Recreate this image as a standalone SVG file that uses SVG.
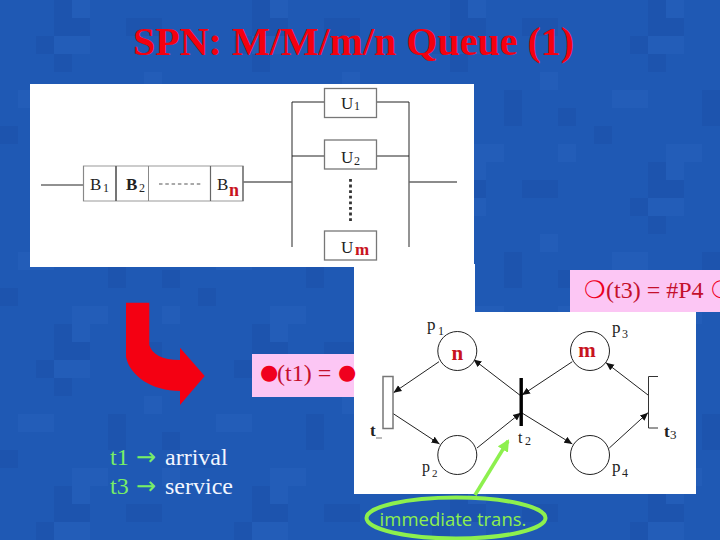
<svg xmlns="http://www.w3.org/2000/svg" width="720" height="540" viewBox="0 0 720 540">
<style>
.ln{fill:none;stroke:#222;stroke-width:1}
.gl{fill:none;stroke:#666;stroke-width:1.4}
.box{fill:#fff;stroke:#777;stroke-width:1.3}
.pl{fill:#fff;stroke:#222;stroke-width:1}
.s{font-family:"Liberation Serif",serif;fill:#222}
.r{font-family:"Liberation Serif",serif;font-weight:bold;fill:#c8141e}
.pk{font-family:"Liberation Serif",serif;font-size:24px;fill:#c4102c}
.bt{font-family:"DejaVu Sans",sans-serif;fill:#f0001e}
.g{font-family:"Liberation Serif",serif;font-size:24px;fill:#78ee66}
.ga{font-family:"DejaVu Sans",sans-serif;font-size:24px;fill:#78ee66}
.w{font-family:"Liberation Serif",serif;font-size:24px;fill:#f2f6ff}
.a{fill:none;stroke:#222;stroke-width:1;marker-end:url(#ah)}
.d{opacity:.3;fill:#174a9f}
.l{opacity:.3;fill:#2a66c2}
</style>
<defs>
<marker id="ah" markerUnits="userSpaceOnUse" markerWidth="9" markerHeight="8" refX="8" refY="4" orient="auto"><path d="M0 0.500L8 4L0 7.500z" fill="#111"/></marker>
<marker id="gh" markerUnits="userSpaceOnUse" markerWidth="14" markerHeight="12" refX="10" refY="6" orient="auto"><path d="M0 0L12 6L0 12z" fill="#8df04e"/></marker>
<pattern id="tiles" width="198" height="162" patternUnits="userSpaceOnUse">
<rect width="198" height="162" fill="#1f59b4"/>
<rect x="54" y="0" width="18" height="36" class="d"/>
<rect x="72" y="0" width="18" height="18" class="l"/>
<rect x="72" y="18" width="18" height="18" class="d"/>
<rect x="36" y="36" width="18" height="18" class="d"/>
<rect x="54" y="36" width="36" height="18" class="l"/>
<rect x="54" y="54" width="18" height="18" class="d"/>
<rect x="126" y="18" width="36" height="18" class="d"/>
<rect x="144" y="72" width="18" height="18" class="l"/>
<rect x="18" y="90" width="36" height="18" class="l"/>
<rect x="108" y="90" width="18" height="36" class="d"/>
<rect x="162" y="108" width="18" height="18" class="d"/>
<rect x="0" y="126" width="18" height="18" class="d"/>
<rect x="72" y="144" width="36" height="18" class="l"/>
<rect x="162" y="144" width="18" height="18" class="l"/>
</pattern>
</defs>
<rect id="background" width="720" height="540" fill="url(#tiles)"/>
<text id="title" x="133" y="55" font-family="'Liberation Serif',serif" font-weight="bold" font-size="40" fill="#f4000f">SPN: M/M/m/n Queue (1)</text>
<rect id="queue-panel" x="30" y="84" width="444" height="183" fill="#fff"/>
<rect id="pink-t3" x="570" y="270" width="150" height="42" fill="#fcc6f4"/>
<rect id="pink-t1" x="252" y="354" width="102" height="43" fill="#fcc6f4"/>
<path id="net-panel" d="M354 264H475V312H696V494H354z" fill="#fff"/>

<g id="connectors">
<path class="ln" d="M41 185H83"/>
<path class="gl" d="M243 182H292M409 182H457M292 102V247M409 102V247"/>
<path class="ln" d="M292 102H324M377 102H409M292 156H324M377 156H409"/>
<path class="a" d="M439 361.700L393.500 392.700"/>
<path class="a" d="M393 413.500L439.500 444"/>
<path class="a" d="M477 448L521 412.700"/>
<path class="a" d="M521 396L473.500 359.500"/>
<path class="a" d="M572.300 361.700L522 395"/>
<path class="a" d="M522 413L572.300 444"/>
<path class="a" d="M609.300 448L648 412.700"/>
<path class="a" d="M648 395L606 362.700"/>
<path d="M475 495L508 441" fill="none" stroke="#8df04e" stroke-width="3.500" marker-end="url(#gh)"/>
</g>

<g id="buffer">
<path d="M83.500 166H243V201H83.500z" fill="#fff" stroke="#999" stroke-width="1.200"/>
<path d="M83.500 166V201M148.500 166V201" stroke="#888" stroke-width="1"/>
<path d="M116 166V201" stroke="#666" stroke-width="1.800"/>
<path d="M210.500 166V201M243 166V201" stroke="#666" stroke-width="1.200"/>
<path d="M159 184H202" stroke="#555" stroke-width="1.200" stroke-dasharray="3.500 2.800"/>
<text class="s" x="90" y="190" font-size="17">B</text><text class="s" x="103" y="192" font-size="12">1</text>
<text class="s" x="126" y="190" font-size="17" font-weight="bold">B</text><text class="s" x="139" y="192" font-size="12">2</text>
<text class="s" x="217" y="190" font-size="17">B</text><text class="r" x="229" y="196" font-size="18">n</text>
</g>
<g id="u1"><rect class="box" x="324.500" y="88.500" width="52" height="29"/><text class="s" x="341" y="108.500" font-size="17">U</text><text class="s" x="354" y="110" font-size="12">1</text></g>
<g id="u2"><rect class="box" x="324.500" y="140" width="52" height="29"/><text class="s" x="341" y="163" font-size="17">U</text><text class="s" x="354" y="165" font-size="12">2</text></g>
<path id="u-dots" d="M350.500 179V221" stroke="#333" stroke-width="2.800" stroke-dasharray="2.800 2.800"/>
<g id="um"><rect class="box" x="324.500" y="231" width="52" height="29"/><text class="s" x="341" y="252.500" font-size="17">U</text><text class="r" x="355" y="255" font-size="17">m</text></g>

<g id="p1"><circle class="pl" cx="457.300" cy="351" r="19.500"/><text class="r" x="457.300" y="360" font-size="21" text-anchor="middle">n</text><text class="s" x="427" y="330" font-size="17">p</text><text class="s" x="438" y="335" font-size="12">1</text></g>
<g id="p2"><circle class="pl" cx="457.300" cy="455" r="19.500"/><text class="s" x="422" y="472" font-size="16">p</text><text class="s" x="432" y="477" font-size="11">2</text></g>
<g id="p3"><circle class="pl" cx="590" cy="351" r="19.500"/><text class="r" x="587" y="357" font-size="21" text-anchor="middle">m</text><text class="s" x="612" y="333" font-size="17">p</text><text class="s" x="622" y="338" font-size="12">3</text></g>
<g id="p4"><circle class="pl" cx="590" cy="455" r="19.500"/><text class="s" x="612" y="472" font-size="17">p</text><text class="s" x="622" y="477" font-size="12">4</text></g>
<g id="t1"><rect x="383" y="376.500" width="10" height="52" fill="#fff" stroke="#777" stroke-width="1.500"/><text class="s" x="370" y="436" font-size="17" font-weight="bold">t</text><path d="M376 438H382" stroke="#777"/></g>
<g id="t2"><rect x="519.500" y="378" width="3.400" height="48" fill="#000"/><text class="s" x="518" y="443" font-size="16">t</text><text class="s" x="525" y="445" font-size="12">2</text></g>
<g id="t3"><path d="M658 376.500H648.500V428H658" fill="none" stroke="#333" stroke-width="1"/><text class="s" x="664" y="437" font-size="17" font-weight="bold">t</text><text class="s" x="670" y="439" font-size="13">3</text></g>

<path id="red-arrow" d="M126 302.700H149.300V345C152 354 162 360 180 360V347.700L204.700 376L180 405V391C152 391 130 376 126 357z" fill="#f40012"/>

<text class="pk" y="381"><tspan class="bt" x="260" y="379" font-size="21">●</tspan><tspan x="277" y="381">(t1) = </tspan><tspan class="bt" x="338" y="379" font-size="21">●</tspan></text>
<text class="pk" y="298"><tspan class="bt" x="584" font-size="24">❍</tspan><tspan x="606">(t3) = #P4 </tspan><tspan class="bt" x="711" font-size="24">❍</tspan></text>

<text id="legend-1" y="465"><tspan class="g" x="110">t1</tspan><tspan class="ga" x="136">→</tspan><tspan class="w" x="165">arrival</tspan></text>
<text id="legend-2" y="494"><tspan class="g" x="110">t3</tspan><tspan class="ga" x="136">→</tspan><tspan class="w" x="165">service</tspan></text>

<g id="immediate"><ellipse cx="456" cy="518" rx="89.500" ry="20.500" fill="none" stroke="#8df04e" stroke-width="4"/><text x="453" y="526" font-family="'Open Sans',sans-serif" font-size="18.500" fill="#8df04e" text-anchor="middle">immediate trans.</text></g>
</svg>
